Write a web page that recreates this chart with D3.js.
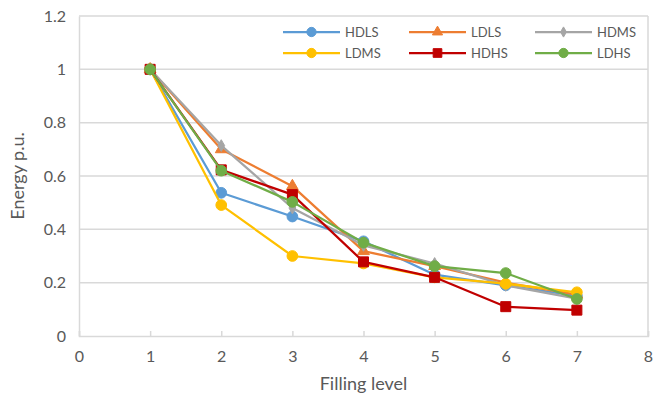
<!DOCTYPE html>
<html>
<head>
<meta charset="utf-8">
<script src="https://cdn.jsdelivr.net/npm/d3@7"></script>
<style>
  html, body { margin: 0; padding: 0; background: #fff; }
  svg { display: block; }
  text { font-family: Lato, "Open Sans", sans-serif; fill: #595959; }
</style>
</head>
<body>
<svg id="chart" width="653" height="401"></svg>
<script>
// Filling levels on the x axis
const levels = [1, 2, 3, 4, 5, 6, 7];

// Normalised energy per filling level for each configuration
const HDLS = [1, 0.537, 0.448, 0.355, 0.230, 0.190, 0.150];
const LDLS = [1, 0.700, 0.562, 0.318, 0.262, 0.200, 0.155];
const HDMS = [1, 0.714, 0.480, 0.340, 0.272, 0.190, 0.140];
const LDMS = [1, 0.491, 0.300, 0.272, 0.220, 0.196, 0.164];
const HDHS = [1, 0.623, 0.530, 0.278, 0.220, 0.110, 0.097];
const LDHS = [1, 0.620, 0.503, 0.350, 0.262, 0.236, 0.139];

const seriesNames = ["HDLS", "LDLS", "HDMS", "LDMS", "HDHS", "LDHS"];
const seriesValues = [HDLS, LDLS, HDMS, LDMS, HDHS, LDHS];
const seriesColors = ["#5B9BD5", "#ED7D31", "#A5A5A5", "#FFC000", "#C00000", "#70AD47"];
const seriesMarkers = ["circle", "triangle", "diamond", "circle", "square", "circle"];

const xTicks = [0, 1, 2, 3, 4, 5, 6, 7, 8];
const yTicks = [0, 0.2, 0.4, 0.6, 0.8, 1, 1.2];

const svg = d3.select("#chart");
const x = d3.scaleLinear().domain([0, 8]).range([79, 648]);
const y = d3.scaleLinear().domain([0, 1.2]).range([336, 16]);

const grid = "#D9D9D9";

// horizontal gridlines
svg.append("g").selectAll("line").data(yTicks.filter(v => v > 0)).join("line")
  .attr("x1", x(0)).attr("x2", x(8))
  .attr("y1", d => y(d)).attr("y2", d => y(d))
  .attr("stroke", grid).attr("stroke-width", 1.5);

// right border of plot area
svg.append("line")
  .attr("x1", x(8)).attr("x2", x(8)).attr("y1", y(0)).attr("y2", y(1.2))
  .attr("stroke", grid).attr("stroke-width", 1.5);

// y axis
const yAxis = svg.append("g").attr("transform", `translate(${x(0)},0)`)
  .call(d3.axisLeft(y).tickValues(yTicks).tickSize(0).tickPadding(13)
    .tickFormat(d => d3.format("~g")(d)));
yAxis.select(".domain").attr("stroke", grid).attr("stroke-width", 1.5);
yAxis.selectAll("text").style("font-size", "16px").attr("fill", "#595959")
  .style("font-family", "Lato, sans-serif");

// x axis
const xAxis = svg.append("g").attr("transform", `translate(0,${y(0)})`)
  .call(d3.axisBottom(x).tickValues(xTicks).tickSize(-5).tickPadding(15)
    .tickFormat(d3.format("d")));
xAxis.select(".domain").attr("stroke", grid).attr("stroke-width", 1.5);
xAxis.selectAll(".tick line").attr("stroke", grid).attr("stroke-width", 1.5);
xAxis.selectAll("text").style("font-size", "16px").attr("fill", "#595959")
  .style("font-family", "Lato, sans-serif");

// axis titles
svg.append("text").attr("x", x(4)).attr("y", 390).attr("text-anchor", "middle")
  .style("font-size", "18px").text("Filling level");
svg.append("text").attr("transform", `translate(24,${y(0.6)}) rotate(-90)`)
  .attr("text-anchor", "middle").style("font-size", "18px")
  .text("Energy p.u.");

// marker drawing
function marker(g, type, color, cx, cy, small) {
  const s = small ? 0.75 : 1;
  let sym;
  if (type === "circle") sym = d3.symbol(d3.symbolCircle, 90 * s);
  else if (type === "square") sym = d3.symbol(d3.symbolSquare, 100 * s);
  else if (type === "triangle") sym = d3.symbol(d3.symbolTriangle, 60 * s);
  else sym = d3.symbol(d3.symbolDiamond, 40 * s);
  g.append("path").attr("d", sym()).attr("transform", `translate(${cx},${cy})`)
    .attr("fill", color).attr("stroke", color).attr("stroke-width", 1);
}

const line = d3.line().x((d, i) => x(levels[i])).y(d => y(d));

// series lines and markers, later series on top
seriesValues.forEach((vals, k) => {
  const g = svg.append("g");
  g.append("path").datum(vals).attr("d", line)
    .attr("fill", "none").attr("stroke", seriesColors[k])
    .attr("stroke-width", 2.25).attr("stroke-linejoin", "round");
  vals.forEach((v, i) => marker(g, seriesMarkers[k], seriesColors[k], x(levels[i]), y(v)));
});

// legend
const legCols = [283, 409, 535];
const legRows = [32, 53];
seriesNames.forEach((name, k) => {
  const lx = legCols[k % 3], ly = legRows[Math.floor(k / 3)];
  const g = svg.append("g");
  g.append("line").attr("x1", lx).attr("x2", lx + 57).attr("y1", ly).attr("y2", ly)
    .attr("stroke", seriesColors[k]).attr("stroke-width", 2.25);
  marker(g, seriesMarkers[k], seriesColors[k], lx + 28.5, ly, true);
  g.append("text").attr("x", lx + 62).attr("y", ly).attr("dy", "0.35em")
    .style("font-size", "13px").text(name);
});
</script>
</body>
</html>
